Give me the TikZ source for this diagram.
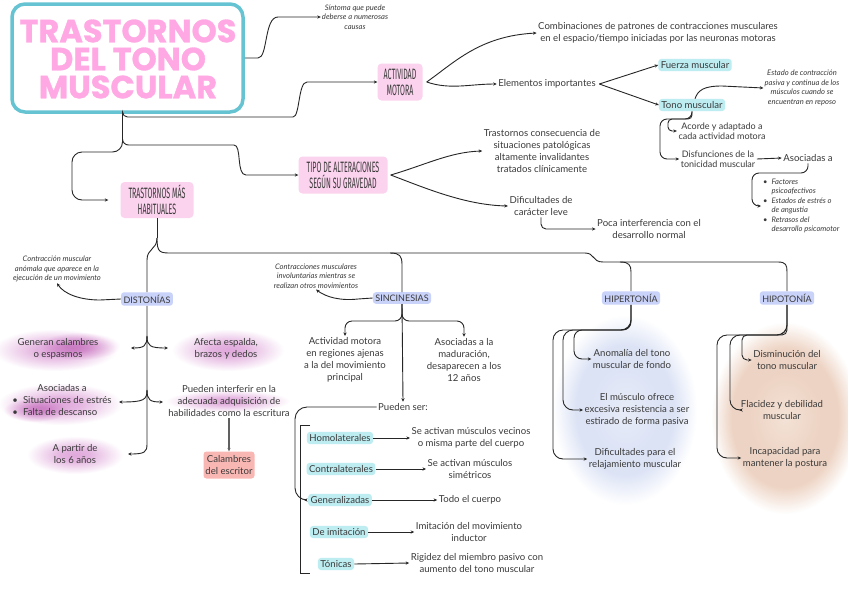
\documentclass[tikz,border=0pt]{standalone}
\usepackage{fontspec}
\setmainfont{Lato}
\newfontfamily\titleout{Poppins}[UprightFont=* Bold, FakeBold=1]
\newfontfamily\capsfont{Fira Sans}[FakeStretch=0.47]
\usetikzlibrary{arrows.meta,calc}
\newcommand{\fsz}[2]{\fontsize{#1}{#2}\selectfont}
\definecolor{ink}{HTML}{3A3A3A}
\definecolor{linec}{HTML}{262626}
\definecolor{tealb}{HTML}{66C4D2}
\definecolor{pinkbox}{HTML}{FCD3EE}
\definecolor{tealbox}{HTML}{BDECF1}
\definecolor{perib}{HTML}{C9D2F9}
\definecolor{salmon}{HTML}{F9B7B3}
\definecolor{magblob}{HTML}{E0A8DB}
\definecolor{bluea}{HTML}{E8ECF8}
\definecolor{blueb}{HTML}{DCE3F5}
\definecolor{peacha}{HTML}{F3E2D6}
\definecolor{peachb}{HTML}{EDD3C3}
\definecolor{tpink}{HTML}{FFA8E4}
\pgfdeclareradialshading{magsh}{\pgfpoint{0bp}{0bp}}{color(0bp)=(magblob); color(8bp)=(magblob!85!white); color(25bp)=(white); color(50bp)=(white)}
\pgfdeclareradialshading{bluesh}{\pgfpoint{0bp}{0bp}}{color(0bp)=(bluea); color(12bp)=(blueb); color(17bp)=(blueb); color(25bp)=(white); color(50bp)=(white)}
\pgfdeclareradialshading{peachsh}{\pgfpoint{0bp}{0bp}}{color(0bp)=(peacha); color(12bp)=(peachb); color(18bp)=(peachb); color(25bp)=(white); color(50bp)=(white)}
\begin{document}
\begin{tikzpicture}[x=1pt,y=-1pt,
  txt/.style={font=\fsz{9.6}{12}, text=ink, align=center, inner sep=1.5pt},
  small/.style={font=\itshape\fsz{7.6}{9.5}, text=ink, align=center, inner sep=1pt},
  pbox/.style={fill=pinkbox, rounded corners=4pt, font=\capsfont\fsz{15}{16}, text=ink, align=center, inner sep=3pt},
  tbox/.style={fill=tealbox, rounded corners=3pt, font=\fsz{9.6}{12}, text=ink, inner sep=2.5pt},
  vbox/.style={fill=perib, rounded corners=3pt, font=\fsz{9}{11}, text=ink, inner sep=2.5pt},
  sbox/.style={fill=salmon, rounded corners=3pt, font=\fsz{9.6}{12}, text=ink, align=center, minimum width=51pt, minimum height=27pt, inner sep=1.5pt},
  titlebox/.style={draw=tealb, line width=3.5pt, fill=white, rounded corners=13pt, minimum width=231pt, minimum height=108pt},
  line/.style={draw=linec, line width=0.9pt},
  conn/.style={line, -{Stealth[length=3.5pt,width=3.2pt]}}]
\fill[white] (0,0) rectangle (848,600);
\useasboundingbox (0,0) rectangle (848,600);
% watercolour blobs
\begin{scope}[blend mode=multiply]
\shade[shading=magsh] (55,350) ellipse (62 and 21);
\shade[shading=magsh] (80,346) ellipse (40 and 14);
\shade[shading=magsh] (228,350) ellipse (56 and 21);
\shade[shading=magsh] (60,404) ellipse (62 and 21);
\shade[shading=magsh] (35,410) ellipse (32 and 12);
\shade[shading=magsh] (228,401) ellipse (62 and 11);
\shade[shading=magsh] (75,455) ellipse (48 and 19);
\shade[shading=bluesh] (625,410) ellipse (72 and 95);
\shade[shading=peachsh] (785,418) ellipse (74 and 96);
\end{scope}
% title
\node[titlebox] (title) at (127.5,58) {};
\node[font=\titleout\fsz{32}{28}, text=tpink, align=center] (titlet) at (128,59) {TRASTORNOS\\DEL TONO\\MUSCULAR};
% upper nodes
\node[small] (sint) at (355,17) {Síntoma que puede\\deberse a numerosas\\causas};
\node[pbox, minimum width=45pt, minimum height=37pt] (actm) at (400,82) {ACTIVIDAD\\MOTORA};
\node[pbox, minimum width=89pt, minimum height=37pt] (tipo) at (343,175) {TIPO DE ALTERACIONES\\SEGÚN SU GRAVEDAD};
\node[pbox, minimum width=73pt, minimum height=36pt] (tmh) at (157,200) {TRASTORNOS MÁS\\HABITUALES};
\node[txt] (comb) at (658,33) {Combinaciones de patrones de contracciones musculares\\en el espacio/tiempo iniciadas por las neuronas motoras};
\node[txt] (elem) at (547,84) {Elementos importantes};
\node[tbox] (fuer) at (695,65) {Fuerza muscular};
\node[tbox] (tono) at (692,105) {Tono muscular};
\node[small] (estado) at (802,88) {Estado de contracción\\pasiva y continua de los\\músculos cuando se\\encuentran en reposo};
\node[txt, font=\fsz{9}{10.5}] (acor) at (722,131) {Acorde y adaptado a\\cada actividad motora};
\node[txt, font=\fsz{9}{10.5}] (disf) at (718,159) {Disfunciones de la\\tonicidad muscular};
\node[txt] (asoc) at (808,158) {Asociadas a};
\node[small, anchor=west, align=left] (list) at (762,206) {\begin{tabular}{@{}l@{\hspace{4pt}}l@{}}\textbullet&Factores\\&psicoafectivos\\ \textbullet&Estados de estrés o\\&de angustia\\ \textbullet&Retrasos del\\&desarrollo psicomotor\end{tabular}};
\node[txt] (trac) at (542,151) {Trastornos consecuencia de\\situaciones patológicas\\altamente invalidantes\\tratados clínicamente};
\node[txt] (difi) at (541,206) {Dificultades de\\carácter leve};
\node[txt] (poca) at (649,229) {Poca interferencia con el\\desarrollo normal};
% lower nodes
\node[vbox] (dist) at (147,299) {DISTONÍAS};
\node[vbox] (sinc) at (402,298) {SINCINESIAS};
\node[vbox] (hiper) at (631,298) {HIPERTONÍA};
\node[vbox] (hipo) at (787,298) {HIPOTONÍA};
\node[small] (cdist) at (57,269) {Contracción muscular\\anómala que aparece en la\\ejecución de un movimiento};
\node[small] (csinc) at (316,276) {Contracciones musculares\\involuntarias mientras se\\realizan otros movimientos};
\node[txt] (gen) at (58,349) {Generan calambres\\o espasmos};
\node[txt] (afec) at (226,349) {Afecta espalda,\\brazos y dedos};
\node[txt, align=left] (asoc2) at (62,401) {\begin{tabular}{@{}l@{\hspace{5pt}}l@{}}\multicolumn{2}{c}{Asociadas a}\\ \textbullet&Situaciones de estrés\\ \textbullet&Falta de descanso\end{tabular}};
\node[txt] (puei) at (229,401) {Pueden interferir en la\\adecuada adquisición de\\habilidades como la escritura};
\node[txt] (apar) at (75,454) {A partir de\\los 6 años};
\node[sbox] (cale) at (229,465) {Calambres\\del escritor};
\node[txt] (actr) at (345,360) {Actividad motora\\en regiones ajenas\\a la del movimiento\\principal};
\node[txt] (amad) at (464,360) {Asociadas a la\\maduración,\\desaparecen a los\\12 años};
\node[txt] (pued) at (403,407) {Pueden ser:};
\node[tbox] (homo) at (340,438) {Homolaterales};
\node[tbox] (contra) at (341,469) {Contralaterales};
\node[tbox] (gene) at (340,500) {Generalizadas};
\node[tbox] (imit) at (339,532) {De imitación};
\node[tbox] (toni) at (336,564) {Tónicas};
\node[txt] (shomo) at (471,438) {Se activan músculos vecinos\\o misma parte del cuerpo};
\node[txt] (scontra) at (470,469) {Se activan músculos\\simétricos};
\node[txt] (sgene) at (470,500) {Todo el cuerpo};
\node[txt] (simit) at (469,532) {Imitación del movimiento\\inductor};
\node[txt] (stoni) at (477,563) {Rigidez del miembro pasivo con\\aumento del tono muscular};
\node[txt] (anom) at (632,359) {Anomalía del tono\\muscular de fondo};
\node[txt] (musc) at (637,410) {El músculo ofrece\\excesiva resistencia a ser\\estirado de forma pasiva};
\node[txt] (dif) at (635,459) {Dificultades para el\\relajamiento muscular};
\node[txt] (dism) at (787,360) {Disminución del\\tono muscular};
\node[txt] (flac) at (782,410) {Flacidez y debilidad\\muscular};
\node[txt] (inca) at (785,458) {Incapacidad para\\mantener la postura};
% named free ends
\coordinate (genA) at (131,348);
\coordinate (afecA) at (168,348);
\coordinate (asocA) at (119,402);
\coordinate (pueiA) at (163,402);
\coordinate (aparA) at (128,454);
\coordinate (b1) at (147,336);
\coordinate (b2) at (147,390);
\coordinate (hub) at (157,238);
% upper connectors
\draw[conn] (title.east) -- (258,58) .. controls (268,58) and (264,17) .. (278,17) -- (sint.west);
\draw[conn, rounded corners=5pt] ([xshift=-5pt]title.south) |- (288,117) .. controls (300,117) and (298,82) .. (312,82) -- (actm.west);
\draw[conn, rounded corners=6pt] ([xshift=-5pt]title.south) |- (228,145) .. controls (242,145) and (236,175) .. (252,175) -- (tipo.west);
\draw[conn, rounded corners=10pt] ([xshift=-5pt]title.south) |- (72,152) |- ([xshift=-12pt]tmh.west);
\draw[conn] ([xshift=4pt]actm.east) .. controls (455,62) and (480,36) .. (comb.west);
\draw[conn] ([xshift=4pt]actm.east) .. controls (450,90) and (470,84) .. (elem.west);
\draw[conn] ([xshift=2pt]elem.east) -- (fuer.west);
\draw[conn] ([xshift=2pt]elem.east) -- (tono.west);
\draw[conn] ([xshift=3pt]tono.north) .. controls (698,90) and (704,86) .. (722,86) -- (estado.west);
\draw[conn, rounded corners=4pt] (tono.south) |- (668,119) |- (acor.west);
\draw[conn, rounded corners=7pt] (tono.south) |- (660,119) |- (disf.west);
\draw[conn] (disf.east) -- (asoc.west);
\draw[conn, rounded corners=7pt] (asoc.south) |- (752,173) |- ([xshift=-1pt]list.west);
\draw[conn] ([xshift=3pt]tipo.east) .. controls (425,165) and (450,152) .. (trac.west);
\draw[conn] ([xshift=3pt]tipo.east) .. controls (425,188) and (465,205) .. (difi.west);
\draw[conn, rounded corners=5pt] (difi.south) |- (poca.west);
% lower tree
\draw[line] (tmh.south) -- (hub);
\draw[line] (hub) .. controls (157,250) and (147,248) .. (147,260) -- (dist.north);
\draw[line] (hub) .. controls (157,253) and (160,253) .. (172,253) -- (390,253) .. controls (400,253) and (402,256) .. (402,265) -- (sinc.north);
\draw[line] (390,253) -- (585,253) .. controls (595,253) and (592,262) .. (603,262) -- (778,262) .. controls (786,262) and (787,265) .. (787,272) -- (hipo.north);
\draw[line] (620,262) .. controls (629,262) and (631,265) .. (631,272) -- (hiper.north);
% distonias
\draw[conn] (dist.south) -- (147,444) .. controls (147,452) and (145,454) .. (aparA);
\draw[conn] (b1) .. controls (147,346) and (144,348) .. (genA);
\draw[conn] (b1) .. controls (147,346) and (150,348) .. (afecA);
\draw[conn] (b2) .. controls (147,400) and (144,402) .. (asocA);
\draw[conn] (b2) .. controls (147,400) and (150,402) .. (pueiA);
\draw[conn, line width=1.3pt, draw=gray!75!black] (puei.south) -- (cale.north);
\draw[conn] (dist.west) -- (100,300) .. controls (80,300) and (64,294) .. (cdist.south);
% sincinesias
\draw[conn] (sinc.west) -- (358,299) .. controls (340,301) and (326,297) .. (csinc.south);
\draw[conn, rounded corners=7pt] (sinc.south) |- (345,321) -- (actr.north);
\draw[conn, rounded corners=7pt] (sinc.south) |- (464,321) -- (amad.north);
\draw[conn] (sinc.south) -- (pued.north);
\draw[conn, rounded corners=12pt] (pued.west) -| (295,450) |- ([xshift=-4pt]gene.west);
\draw[line] (310,425) -- (300,425) -- (300,573) -- (310,573);
\draw[conn] (homo.east) -- (shomo.west);
\draw[conn] (contra.east) -- (scontra.west);
\draw[conn] (gene.east) -- (sgene.west);
\draw[conn] (imit.east) -- (simit.west);
\draw[conn] (toni.east) -- (stoni.west);
% hipertonia
\draw[conn, rounded corners=10pt] (hiper.south) |- (553,330) |- (dif.west);
\draw[conn, rounded corners=10pt] (hiper.south) |- (563,330) |- (musc.west);
\draw[conn, rounded corners=8pt] (hiper.south) |- (574,330) |- (anom.west);
% hipotonia
\draw[conn, rounded corners=10pt] (hipo.south) |- (717,335) |- (inca.west);
\draw[conn, rounded corners=10pt] (hipo.south) |- (730,335) |- (flac.west);
\draw[conn, rounded corners=5pt] (hipo.south) |- (742,335) |- (dism.west);
\end{tikzpicture}
\end{document}
